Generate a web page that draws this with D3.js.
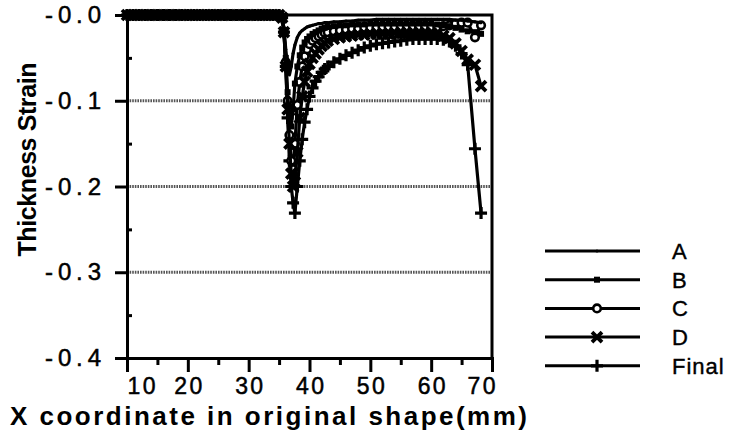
<!DOCTYPE html>
<html>
<head>
<meta charset="utf-8">
<script src="https://cdn.jsdelivr.net/npm/d3@7"></script>
<style>
  body { margin: 0; background: #fff; }
  text { font-family: "Liberation Sans", Arial, sans-serif; fill: #000; }
</style>
</head>
<body>
<div id="chart"></div>
<script>
// x positions (mm) shared by all the passes
let xs = [10,11,12,13,14,15,16,17,18,19,20,21,22,23,24,25,26,27,28,29,30,31,32,33,34,35,
  35.5,35.8,36.1,36.4,36.7,37,37.3,37.6,38,38.4,38.8,39.2,39.6,40,40.5,41,41.5,42,42.5,43,
  44,45,46,47,48,49,50,51,52,53,54,55,56,57,58,59,60,61,62,63,64,65,66,
  67.2,68.2];

let plateau = [0,0,0,0,0,0,0,0,0,0,0,0,0,0,0,0,0,0,0,0,0,0,0,0,0,0];

let valuesA = plateau.concat([
  -0.002,-0.015,-0.04,-0.06,-0.07,-0.06,-0.045,-0.035,-0.026,-0.021,-0.018,-0.016,-0.014,-0.013,-0.012,-0.011,-0.01,-0.01,-0.009,-0.009,
  -0.008,-0.008,-0.007,-0.007,-0.006,-0.006,-0.006,-0.005,-0.005,-0.005,-0.005,-0.005,
  -0.005,-0.005,-0.005,-0.005,-0.005,-0.005,-0.005,-0.005,-0.006,-0.006,-0.007,
  -0.008,-0.009]);
let valuesB = plateau.concat([
  -0.002,-0.018,-0.05,-0.09,-0.12,-0.13,-0.11,-0.08,-0.06,-0.047,-0.038,-0.032,-0.028,-0.025,-0.022,-0.02,-0.018,-0.016,-0.015,-0.014,
  -0.013,-0.012,-0.012,-0.011,-0.011,-0.011,-0.01,-0.01,-0.01,-0.01,-0.01,-0.01,
  -0.01,-0.01,-0.01,-0.01,-0.01,-0.011,-0.012,-0.013,-0.015,-0.017,-0.019,
  -0.02,-0.022]);
let valuesC = plateau.concat([
  -0.003,-0.02,-0.055,-0.1,-0.14,-0.17,-0.18,-0.15,-0.105,-0.078,-0.06,-0.048,-0.04,-0.034,-0.03,-0.027,-0.025,-0.023,-0.021,-0.02,
  -0.019,-0.018,-0.017,-0.016,-0.016,-0.015,-0.015,-0.015,-0.014,-0.014,-0.014,-0.014,
  -0.014,-0.014,-0.014,-0.014,-0.014,-0.014,-0.013,-0.012,-0.01,-0.009,-0.009,
  -0.026,-0.012]);
let valuesD = plateau.concat([
  -0.003,-0.02,-0.06,-0.11,-0.15,-0.185,-0.2,-0.195,-0.16,-0.12,-0.095,-0.078,-0.066,-0.057,-0.05,-0.045,-0.04,-0.036,-0.033,-0.03,
  -0.028,-0.026,-0.025,-0.024,-0.023,-0.023,-0.022,-0.022,-0.022,-0.022,-0.021,-0.021,
  -0.021,-0.021,-0.021,-0.021,-0.021,-0.022,-0.024,-0.027,-0.033,-0.042,-0.052,
  -0.058,-0.083]);
let valuesFinal = plateau.concat([
  -0.003,-0.02,-0.06,-0.12,-0.17,-0.2,-0.219,-0.231,-0.2,-0.17,-0.145,-0.125,-0.11,-0.095,-0.085,-0.077,-0.072,-0.067,-0.063,-0.06,
  -0.055,-0.051,-0.047,-0.044,-0.041,-0.038,-0.036,-0.034,-0.033,-0.032,-0.031,-0.03,
  -0.029,-0.028,-0.028,-0.028,-0.028,-0.028,-0.029,-0.031,-0.036,-0.045,-0.058,
  -0.156,-0.231]);

let seriesNames = ["A", "B", "C", "D", "Final"];
let seriesMarkers = ["dot", "square", "circle", "cross", "plus"];

let xMajor = [10, 20, 30, 40, 50, 60, 70];
let xMinor = [15, 25, 35, 45, 55, 65];
let yMajor = [0, -0.1, -0.2, -0.3, -0.4];
let yTickLabels = ["-0.0", "-0.1", "-0.2", "-0.3", "-0.4"];
let yMinor = [-0.05, -0.15, -0.25, -0.35];
let gridValues = [-0.1, -0.2, -0.3];

let width = 732;
let height = 447;
let margin = {top: 15, right: 240, bottom: 89, left: 127};

let x = d3.scaleLinear().domain([10, 70]).range([margin.left, width - margin.right]);
let y = d3.scaleLinear().domain([-0.4, 0]).range([height - margin.bottom, margin.top]);

let svg = d3.select("#chart").append("svg")
  .attr("width", width)
  .attr("height", height);

// grid lines (grey, wavy looking)
svg.append("g").selectAll("line")
  .data(gridValues)
  .enter().append("line")
  .attr("x1", x(10)).attr("x2", x(70))
  .attr("y1", d => y(d)).attr("y2", d => y(d))
  .attr("stroke", "#555")
  .attr("stroke-width", 3)
  .attr("stroke-dasharray", "1.6,1");

// frame: top and right
svg.append("path")
  .attr("d", `M${x(10)},${y(0)}H${x(70)}V${y(-0.4)}`)
  .attr("fill", "none")
  .attr("stroke", "#000")
  .attr("stroke-width", 3);

// markers
function drawMarker(g, type, cx, cy) {
  if (type == "dot") {
    g.append("circle").attr("cx", cx).attr("cy", cy).attr("r", 1.5).attr("fill", "#000");
  } else if (type == "square") {
    g.append("rect").attr("x", cx - 3).attr("y", cy - 3).attr("width", 6).attr("height", 6).attr("fill", "#000");
  } else if (type == "circle") {
    g.append("circle").attr("cx", cx).attr("cy", cy).attr("r", 3.8)
      .attr("fill", "#fff").attr("stroke", "#000").attr("stroke-width", 2.6);
  } else if (type == "cross") {
    g.append("path").attr("d", `M${cx-5},${cy-5}L${cx+5},${cy+5}M${cx-5},${cy+5}L${cx+5},${cy-5}`)
      .attr("stroke", "#000").attr("stroke-width", 3.8);
  } else if (type == "plus") {
    g.append("path").attr("d", `M${cx-6},${cy}H${cx+6}M${cx},${cy-6}V${cy+6}`)
      .attr("stroke", "#000").attr("stroke-width", 3.2);
  }
}

let allValues = [valuesA, valuesB, valuesC, valuesD, valuesFinal];
let series = seriesNames.map((name, i) => ({
  name: name,
  marker: seriesMarkers[i],
  points: xs.map((xv, j) => ({x: xv, v: allValues[i][j]}))
}));

let line = d3.line().x(d => x(d.x)).y(d => y(d.v));

// drawing order: Final at the back, A on top
let order = [4, 2, 3, 1, 0];
let plot = svg.append("g");
order.forEach(i => {
  let s = series[i];
  let g = plot.append("g").attr("class", "series-" + s.name);
  g.append("path")
    .datum(s.points)
    .attr("d", line)
    .attr("fill", "none")
    .attr("stroke", "#000")
    .attr("stroke-width", 3.2);
  s.points.forEach(p => drawMarker(g, s.marker, x(p.x), y(p.v)));
});

// y axis
let yAxis = svg.append("g")
  .attr("transform", `translate(${margin.left},0)`)
  .call(d3.axisLeft(y).tickValues(yMajor).tickSize(12).tickPadding(14)
    .tickFormat((d, i) => yTickLabels[i]));
svg.append("g")
  .attr("transform", `translate(${margin.left},0)`)
  .call(d3.axisLeft(y).tickValues(yMinor).tickSize(-5).tickFormat(""))
  .select(".domain").remove();

// x axis
let xAxis = svg.append("g")
  .attr("transform", `translate(0,${y(-0.4)})`)
  .call(d3.axisBottom(x).tickValues(xMajor).tickSize(14).tickPadding(6).tickFormat(d3.format("d")));
svg.append("g")
  .attr("transform", `translate(0,${y(-0.4)})`)
  .call(d3.axisBottom(x).tickValues(xMinor).tickSize(7).tickFormat(""))
  .select(".domain").remove();

svg.selectAll(".domain").attr("stroke-width", 3).attr("stroke", "#000");
svg.selectAll(".tick line").attr("stroke-width", 3).attr("stroke", "#000");
svg.selectAll(".tick text").attr("font-family", null).attr("fill", "#000")
  .attr("stroke", "#000").attr("stroke-width", 0.5);

yAxis.selectAll(".tick text")
  .attr("font-size", 24)
  .attr("textLength", 56)
  .attr("lengthAdjust", "spacing");

xAxis.selectAll(".tick text")
  .attr("font-size", 23)
  .attr("textLength", 28)
  .attr("lengthAdjust", "spacing")
  .attr("text-anchor", (d, i) => i == 0 ? "start" : (i == xMajor.length - 1 ? "end" : "middle"))
  .attr("dx", (d, i) => i == xMajor.length - 1 ? 3 : 0);

// axis titles
svg.append("text")
  .attr("x", 10)
  .attr("y", 425)
  .attr("font-size", 26)
  .attr("font-weight", "bold")
  .attr("textLength", 517)
  .attr("lengthAdjust", "spacing")
  .text("X coordinate in original shape(mm)");

svg.append("text")
  .attr("transform", `translate(36,${(y(0) + y(-0.4)) / 2 - 27}) rotate(-90)`)
  .attr("text-anchor", "middle")
  .attr("font-size", 25)
  .attr("font-weight", "bold")
  .attr("textLength", 194)
  .attr("lengthAdjust", "spacing")
  .text("Thickness Strain");

// legend
let legend = svg.append("g").attr("transform", "translate(545,251)");
series.forEach((s, i) => {
  let g = legend.append("g").attr("transform", `translate(0,${i * 28.7})`);
  g.append("line").attr("x1", 0).attr("x2", 95).attr("y1", 0).attr("y2", 0)
    .attr("stroke", "#000").attr("stroke-width", 3);
  drawMarker(g, s.marker, 52, 0);
  g.append("text").attr("x", 127).attr("y", 8).attr("font-size", 22)
    .attr("stroke", "#000").attr("stroke-width", 0.4)
    .attr("letter-spacing", 1)
    .text(s.name);
});
</script>
</body>
</html>
